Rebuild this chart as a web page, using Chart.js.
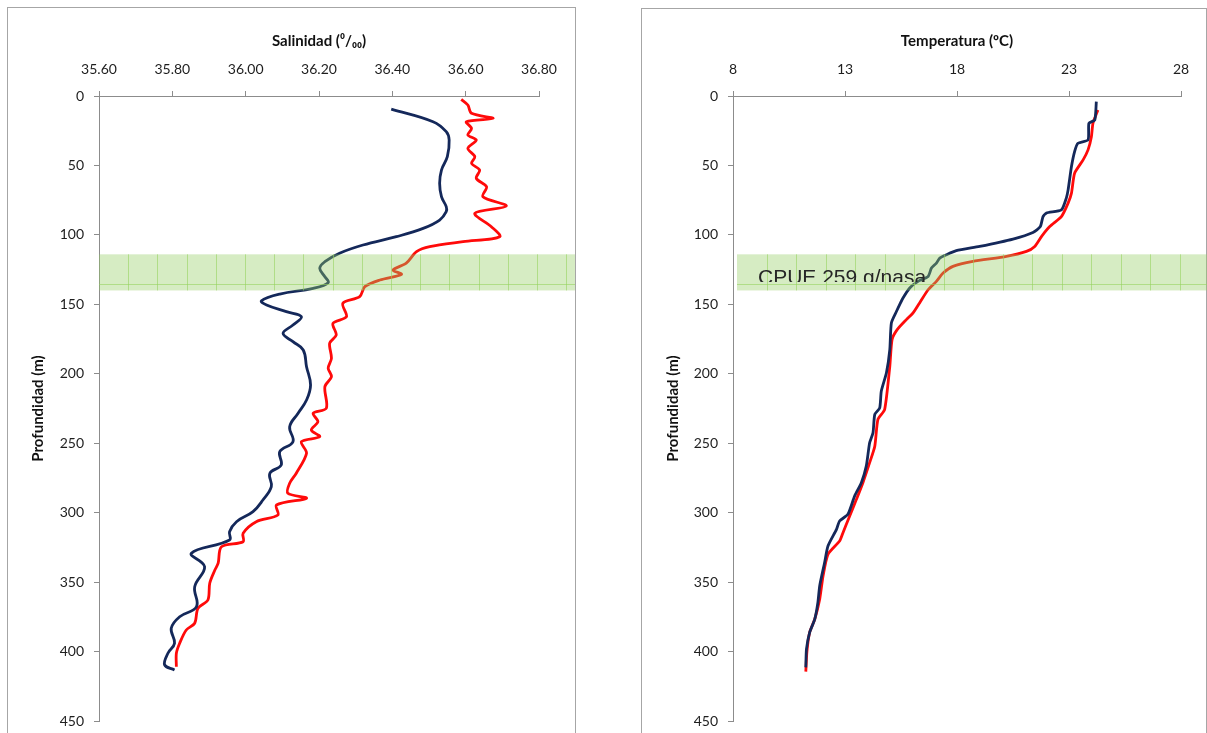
<!DOCTYPE html>
<html>
<head>
<meta charset="utf-8">
<script src="https://cdn.jsdelivr.net/npm/chart.js@4.4.0/dist/chart.umd.min.js"></script>
<style>
    body { margin: 0; background: #fff; overflow: hidden; width: 1207px; height: 733px; position: relative; }
    .panel { position: absolute; border: 1px solid #a6a6a6; box-sizing: border-box; }
    .wrap { position: absolute; top: 0; height: 733px; }
</style>
</head>
<body>
<div class="panel" style="left:7px;top:7px;width:569px;height:760px"></div>
<div class="panel" style="left:641px;top:8px;width:566px;height:760px"></div>
<div class="wrap" style="left:0;width:600px"><canvas id="salChart"></canvas></div>
<div class="wrap" style="left:600px;width:607px"><canvas id="tempChart"></canvas></div>
<script>
// Salinity profiles (depth in m, salinity in per mil)
const salDepthA = [9.4, 18.5, 25.7, 31.7, 43.7, 53.3, 62.9, 72.5, 79.7, 83.3,
    89.3, 95.3, 101.3, 107.3, 113.2, 119.3, 124.1, 130.1, 134.4, 138.5,
    142.6, 147.4, 150.5, 155.3, 158.9, 164.9, 170.9, 176.9, 182.9, 194.9,
    208, 218.9, 228.4, 238.1, 248.9, 256.1, 265.7, 271.6, 281.3, 290.9,
    299.3, 306.5, 313.7, 319.7, 329.2, 338.9, 353.3, 367.7, 374.9, 383.2,
    394, 401.2, 409.6, 413.2];
const salA = [36.397, 36.511, 36.547, 36.555, 36.550, 36.534, 36.529, 36.534, 36.547, 36.547,
    36.529, 36.484, 36.411, 36.320, 36.256, 36.216, 36.202, 36.216, 36.225, 36.184,
    36.093, 36.043, 36.057, 36.111, 36.152, 36.129, 36.102, 36.129, 36.157, 36.166,
    36.177, 36.166, 36.143, 36.120, 36.129, 36.093, 36.097, 36.066, 36.070, 36.047,
    36.020, 35.975, 35.956, 35.956, 35.852, 35.888, 35.861, 35.866, 35.820, 35.797,
    35.806, 35.788, 35.779, 35.806];

const salDepthB = [2.4, 6.5, 12.5, 16.1, 18.5, 23.3, 28.1, 31.7, 37.7, 43.7,
    48.5, 53.3, 59.3, 65.3, 72.5, 79.2, 84.4, 94.1, 101.3, 104.9,
    108.5, 112.1, 120.4, 125.3, 128.4, 132.5, 137.3, 144.5, 149.3, 158.9,
    163.7, 172.1, 178, 188.8, 196, 202.1, 209.3, 224.8, 228.4, 234.5,
    240.5, 245.3, 248.9, 257.2, 271.6, 278.8, 286, 289.6, 294.5, 301.7,
    306.5, 314.8, 320.9, 324.5, 336.4, 341.3, 350.8, 362.9, 368.8, 379.6,
    384.5, 394, 401.2, 410.9];
const salB = [36.588, 36.606, 36.616, 36.675, 36.602, 36.616, 36.606, 36.629, 36.606, 36.625,
    36.616, 36.638, 36.629, 36.657, 36.647, 36.711, 36.625, 36.670, 36.693, 36.593,
    36.502, 36.466, 36.438, 36.402, 36.425, 36.366, 36.325, 36.311, 36.265, 36.275,
    36.238, 36.247, 36.229, 36.234, 36.225, 36.234, 36.216, 36.220, 36.184, 36.197,
    36.179, 36.202, 36.152, 36.166, 36.138, 36.120, 36.115, 36.166, 36.084, 36.088,
    36.029, 35.993, 35.993, 35.934, 35.925, 35.916, 35.902, 35.897, 35.870, 35.861,
    35.838, 35.820, 35.811, 35.811];

// Temperature profiles (depth in m, temperature in ºC)
const tempDepthA = [4.1, 17.3, 19.6, 31.6, 34, 40, 50.8, 67.6, 73.5, 82,
    84.3, 86.8, 94, 98.3, 103, 108.3, 111.4, 114.3, 116.7, 120.3,
    123.9, 129.9, 133.5, 138.2, 145.4, 150.2, 155, 163.4, 182.6, 199.3,
    212.6, 224.5, 229.3, 242.5, 249.7, 266.5, 278.4, 288, 301.2, 306,
    312, 324, 335.9, 352.7, 364.7, 376.7, 386.3, 398.3, 411.4];
const tempA = [24.22, 24.15, 23.89, 23.85, 23.40, 23.25, 23.11, 22.96, 22.88, 22.66,
    21.99, 21.84, 21.72, 21.39, 20.50, 19.01, 17.97, 17.53, 17.23, 17.08,
    16.86, 16.71, 16.26, 15.89, 15.59, 15.44, 15.30, 15.07, 15.00, 14.85,
    14.62, 14.55, 14.33, 14.25, 14.10, 13.95, 13.73, 13.43, 13.13, 12.76,
    12.62, 12.24, 12.09, 11.87, 11.79, 11.65, 11.42, 11.28, 11.25];

const tempDepthB = [10.1, 19.6, 29.3, 38.8, 46, 55.6, 69.9, 77.1, 86.8, 94,
    101.2, 108.3, 111.9, 115.5, 119.1, 122.7, 127.5, 133.5, 139.5, 149,
    156.2, 161, 168.2, 175.4, 194.6, 225.7, 232.9, 252.1, 264, 278.4,
    290.4, 302.4, 314.4, 320.4, 330, 345.6, 362.3, 376.7, 386.3, 400,
    414.5];
const tempB = [24.29, 24.07, 24.00, 23.85, 23.63, 23.25, 23.11, 22.96, 22.66, 22.14,
    21.77, 21.47, 21.10, 20.21, 18.71, 17.82, 17.38, 17.08, 16.71, 16.33,
    16.04, 15.74, 15.33, 15.10, 15.00, 14.77, 14.47, 14.33, 14.10, 13.80,
    13.51, 13.21, 12.91, 12.76, 12.24, 12.02, 11.87, 11.65, 11.42, 11.30,
    11.25];

// Catch layer (CPUE band), depth in m
const bandTop = 114;
const bandBottom = 140;
const bandLine = 135.3;
const bandLabel = 'CPUE 259 g/nasa';

const BLUE = '#14285a';
const RED = '#ff0a0a';
const AXIS = '#8c8c8c';
const FONT = 'Lato, "Open Sans", sans-serif';

function points(depths, values) {
    return depths.map((d, i) => ({ x: values[i], y: d }));
}

const bandPlugin = {
    id: 'band',
    afterDatasetsDraw(chart, args, opts) {
        const { ctx, chartArea } = chart;
        const y = chart.scales.y;
        const top = y.getPixelForValue(bandTop);
        const bottom = y.getPixelForValue(bandBottom);
        const lineY = Math.round(y.getPixelForValue(bandLine)) + 0.5;
        const left = chartArea.left + opts.inset;
        const right = chart.width - opts.rightGap;

        ctx.save();
        ctx.fillStyle = 'rgba(150, 205, 101, 0.39)';
        ctx.fillRect(left, top, right - left, bottom - top);

        ctx.strokeStyle = 'rgba(150, 210, 95, 0.6)';
        ctx.lineWidth = 1;
        ctx.beginPath();
        for (let x = left + opts.step; x < right; x += opts.step) {
            const px = Math.round(x) + 0.5;
            ctx.moveTo(px, top);
            ctx.lineTo(px, bottom);
        }
        ctx.moveTo(left, lineY);
        ctx.lineTo(right, lineY);
        ctx.stroke();

        if (opts.label) {
            ctx.beginPath();
            ctx.rect(left, top, right - left, lineY - 2.5 - top);
            ctx.clip();
            ctx.fillStyle = '#262626';
            ctx.font = '21px "Liberation Sans", Arial, sans-serif';
            ctx.textBaseline = 'alphabetic';
            ctx.fillText(opts.label, left + 21, top + 29.5);
        }
        ctx.restore();
    }
};

function profileOptions(xMin, xMax, xStep, xTitle, yWidth, padRight, yTitlePad, decimals, band) {
    return {
        responsive: true,
        maintainAspectRatio: false,
        animation: false,
        layout: { padding: { top: 0, left: 0, right: padRight, bottom: 12 } },
        plugins: {
            legend: { display: false },
            tooltip: { enabled: false },
            band: band,
        },
        scales: {
            x: {
                type: 'linear',
                position: 'top',
                min: xMin,
                max: xMax,
                afterFit(scale) {
                    scale.height = 96;
                    scale.paddingLeft = 0;
                    scale.paddingRight = 0;
                },
                ticks: {
                    stepSize: xStep,
                    padding: 13,
                    color: '#1e1e1e',
                    font: { family: FONT, size: 14 },
                    callback: (v) => Number(v).toFixed(decimals),
                },
                grid: { drawOnChartArea: false, drawTicks: true, tickLength: 5, color: AXIS },
                border: { color: AXIS, width: 1 },
                title: {
                    display: true,
                    text: xTitle,
                    color: '#111',
                    font: { family: FONT, size: 15, weight: 'bold' },
                    padding: { top: 32, bottom: 0 },
                },
            },
            y: {
                type: 'linear',
                reverse: true,
                min: 0,
                max: 450,
                afterFit(scale) {
                    scale.width = yWidth;
                    scale.paddingTop = 0;
                    scale.paddingBottom = 0;
                },
                ticks: {
                    stepSize: 50,
                    padding: 10,
                    color: '#1e1e1e',
                    font: { family: FONT, size: 14 },
                },
                grid: { drawOnChartArea: false, drawTicks: true, tickLength: 5, color: AXIS },
                border: { color: AXIS, width: 1 },
                title: {
                    display: true,
                    text: 'Profundidad (m)',
                    color: '#111',
                    font: { family: FONT, size: 15, weight: 'bold' },
                    padding: { top: yTitlePad, bottom: 0 },
                },
            },
        },
    };
}

function lineSet(data, color, tension) {
    return {
        data: data,
        showLine: true,
        borderColor: color,
        backgroundColor: color,
        borderWidth: 2.8,
        pointRadius: 0,
        tension: tension,
    };
}

const salChart = new Chart(document.getElementById('salChart'), {
    type: 'scatter',
    data: {
        datasets: [
            lineSet(points(salDepthA, salA), BLUE, 0.4),
            lineSet(points(salDepthB, salB), RED, 0.3),
        ],
    },
    options: profileOptions(35.6, 36.8, 0.2, 'Salinidad (\u2070/\u2080\u2080)', 99, 61, 29, 2,
        { inset: 0, rightGap: 25, step: 29.2, label: null }),
    plugins: [bandPlugin],
});

const tempChart = new Chart(document.getElementById('tempChart'), {
    type: 'scatter',
    data: {
        datasets: [
            lineSet(points(tempDepthA, tempA), BLUE, 0.2),
            lineSet(points(tempDepthB, tempB), RED, 0.2),
        ],
    },
    options: profileOptions(8, 28, 5, 'Temperatura (ºC)', 133, 26, 64, 0,
        { inset: 4, rightGap: 0, step: 29.5, label: bandLabel }),
    plugins: [bandPlugin],
});
</script>
</body>
</html>
